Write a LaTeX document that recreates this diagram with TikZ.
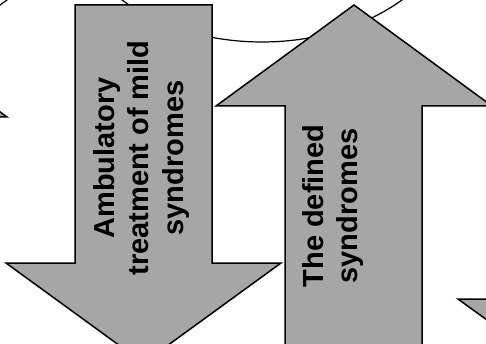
\documentclass[tikz,border=0pt]{standalone}
\usepackage{fontspec}
\setmainfont{Liberation Sans}
\usepackage{tikz}
\definecolor{arrowgrey}{RGB}{166,166,166}

\begin{document}
\begin{tikzpicture}[x=1pt,y=1pt,yscale=-1,xscale=1,
  blockarrow/.style={draw=black, fill=arrowgrey, line width=1.5pt, line join=miter},
  outline/.style={draw=black, line width=1.2pt},
  arrowtext/.style={rotate=90, align=center, font=\bfseries\fontsize{29}{34.5}\selectfont}]
\useasboundingbox (0,0) rectangle (486,344);
\clip (0,0) rectangle (486,344);

%Shape: Ellipse
\draw [outline] (262,-105) ellipse (200 and 147);
%Straight Lines
\draw [outline] (-7,10) -- (14,-5);
%Shape: Up Arrow (left edge)
\draw [blockarrow] (-131,16) -- (7,117) -- (-62,117) -- (-62,400) -- (-200,400) -- (-200,117) -- (-269,117) -- cycle;
%Shape: Down Arrow
\draw [blockarrow] (75,5) -- (212,5) -- (212,263) -- (281,263) -- (143.5,363) -- (6,263) -- (75,263) -- cycle;
%Shape: Up Arrow
\draw [blockarrow] (354,5) -- (492,106) -- (422,106) -- (422,400) -- (285,400) -- (285,106) -- (216,106) -- cycle;
%Shape: Down Arrow (right edge)
\draw [blockarrow] (527,-100) -- (665,-100) -- (665,299) -- (734,299) -- (596,399) -- (458,299) -- (527,299) -- cycle;

%Text
\node [arrowtext] (ambulatory) at (141,158) {Ambulatory\\treatment of mild\\syndromes};
\node [arrowtext] (defined) at (333,206) {The defined\\syndromes};

\end{tikzpicture}
\end{document}
